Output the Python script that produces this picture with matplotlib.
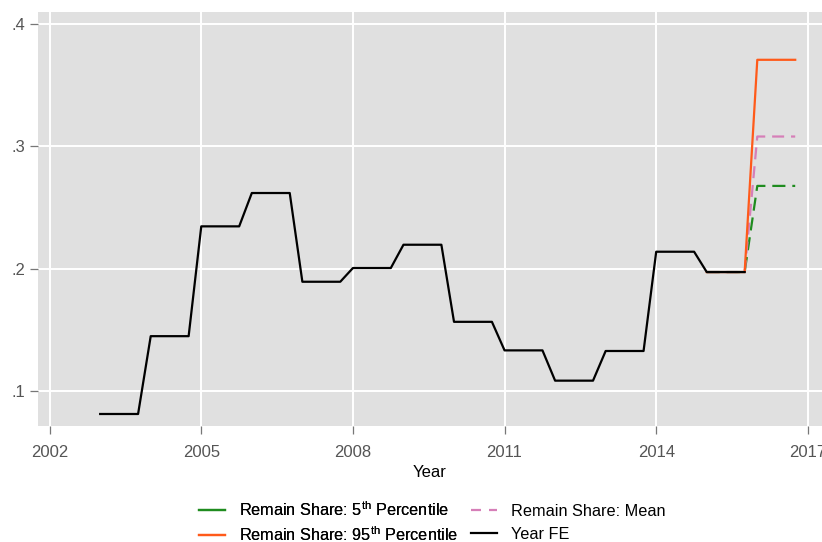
import numpy as np
import matplotlib
matplotlib.use("Agg")
import matplotlib.pyplot as plt
from matplotlib.lines import Line2D

plt.rcParams["font.family"] = ["Liberation Sans", "DejaVu Sans"]
plt.rcParams["mathtext.fontset"] = "custom"
plt.rcParams["mathtext.rm"] = "Liberation Sans"

# year fixed effects, 2003-2015
fe_years = [2003, 2004, 2005, 2006, 2007, 2008, 2009, 2010, 2011, 2012, 2013, 2014, 2015]
fe_vals = [0.0815, 0.145, 0.2346, 0.2618, 0.1894, 0.2006, 0.2196,
           0.1567, 0.1334, 0.1087, 0.1329, 0.2139, 0.1973]

# remain share projections (2015 -> 2016)
rs_years = [2015, 2016]
rs_p5 = [0.1973, 0.2676]
rs_p95 = [0.1973, 0.3705]
rs_mean = [0.1973, 0.3079]

xticks = [2002, 2005, 2008, 2011, 2014, 2017]
yticks = [0.1, 0.2, 0.3, 0.4]
ylabels = [".1", ".2", ".3", ".4"]


def steps(years, vals, w=0.75):
    # each year is a flat segment from t to t+w
    x = np.ravel([[t, t + w] for t in years])
    y = np.repeat(vals, 2)
    return x, y


fig = plt.figure(figsize=(8.22, 5.42), dpi=100)
ax = fig.add_axes([38 / 822, 1 - 426 / 542, 1 - 38 / 822, (426 - 12) / 542])
ax.set_facecolor("#e0e0e0")
for s in ax.spines.values():
    s.set_visible(False)

green = "#1f8c1f"
orange = "#ff5a1a"
pink = "#d67fb8"

x, y = steps(rs_years, rs_p5)
ax.plot(x, y, color=green, lw=1.6, dashes=(5.9, 3.1), zorder=3)
x, y = steps(rs_years, rs_mean)
ax.plot(x, y, color=pink, lw=1.6, dashes=(5.4, 3.1), zorder=3)
x, y = steps(rs_years, rs_p95)
ax.plot(x, y, color=orange, lw=1.6, zorder=4)
x, y = steps(fe_years, fe_vals)
ax.plot(x, y, color="black", lw=1.6, zorder=5)

ax.set_xlim(2001.77, 2017.28)
ax.set_ylim(0.0717, 0.4095)
ax.set_xticks(xticks)
ax.set_yticks(yticks)
ax.set_yticklabels(ylabels)
ax.grid(True, color="white", lw=1.4)
ax.set_axisbelow(True)
ax.tick_params(colors="#777777", labelcolor="#555555", labelsize=12,
               length=6, width=0.9, direction="out")
ax.tick_params(axis="x", pad=8)
ax.tick_params(axis="y", pad=3)
ax.set_xlabel("Year", fontsize=12, labelpad=3)

# legend: two columns drawn as two legends so the rows line up
leg_kw = dict(frameon=False, fontsize=11.7, handlelength=1.6, handletextpad=0.85,
              borderpad=0, borderaxespad=0, loc="center left")
h1 = [Line2D([], [], color=green, lw=1.6), Line2D([], [], color=orange, lw=1.6)]
l1 = [r"Remain Share: 5$^{\mathrm{th}}$ Percentile",
      r"Remain Share: 95$^{\mathrm{th}}$ Percentile"]
h2 = [Line2D([], [], color=pink, lw=1.6, dashes=(4.5, 3.6)),
      Line2D([], [], color="black", lw=1.6)]
l2 = ["Remain Share: Mean", "Year FE"]
leg1 = fig.legend(h1, l1, bbox_to_anchor=(199 / 822, 1 - 522 / 542),
                  labelspacing=0.35, **leg_kw)
fig.add_artist(leg1)
fig.legend(h2, l2, bbox_to_anchor=(471 / 822, 1 - 523 / 542),
           labelspacing=0.5, **leg_kw)

fig.savefig("out.png", dpi=100)
